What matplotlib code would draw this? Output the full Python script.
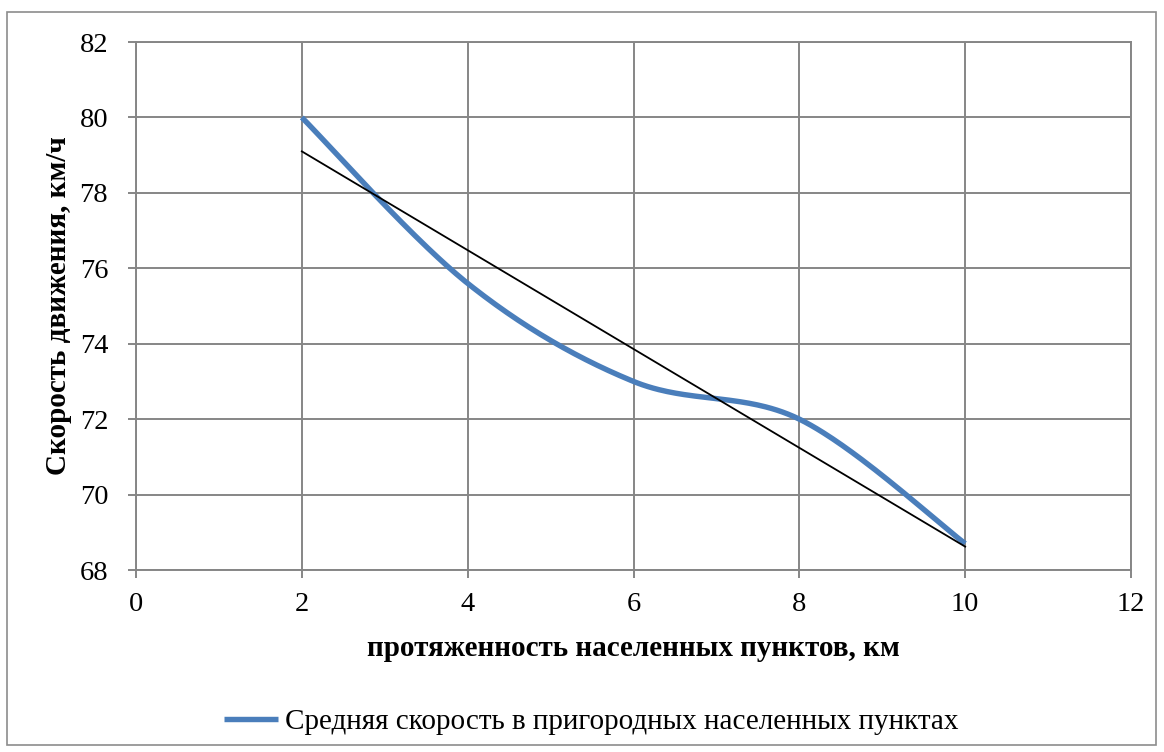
import numpy as np
import matplotlib
matplotlib.use("Agg")
import matplotlib.pyplot as plt
from matplotlib.patches import Rectangle

# Data
x_vals = [2, 4, 6, 8, 10]
y_vals = [80.0, 75.6, 73.0, 72.0, 68.7]
x_ticks = [0, 2, 4, 6, 8, 10, 12]
y_ticks = [68, 70, 72, 74, 76, 78, 80, 82]
series_label = "Средняя скорость в пригородных населенных пунктах"
x_label = "протяженность населенных пунктов, км"
y_label = "Скорость движения, км/ч"

plt.rcParams['font.family'] = ['Liberation Serif', 'DejaVu Serif']

def excel_smooth(xs, ys, n=60):
    P = np.column_stack([xs, ys]).astype(float)
    out = []
    for i in range(len(P) - 1):
        p0 = P[i - 1] if i > 0 else P[i]
        p1 = P[i]
        p2 = P[i + 1]
        p3 = P[i + 2] if i + 2 < len(P) else P[i + 1]
        c1 = p1 + (p2 - p0) / 6.0
        c2 = p2 - (p3 - p1) / 6.0
        t = np.linspace(0, 1, n)[:, None]
        seg = ((1 - t) ** 3) * p1 + 3 * ((1 - t) ** 2) * t * c1 + 3 * (1 - t) * t ** 2 * c2 + t ** 3 * p2
        out.append(seg if i == 0 else seg[1:])
    s = np.vstack(out)
    return s[:, 0], s[:, 1]

fig = plt.figure(figsize=(11.64, 7.52), dpi=100)
fig.patches.append(Rectangle((7 / 1164, 7 / 752), 1149 / 1164, 733 / 752,
                             transform=fig.transFigure, fill=False,
                             edgecolor='#8c8c8c', linewidth=1.2))
ax = fig.add_axes([136 / 1164, 1 - 570 / 752, (1131 - 136) / 1164, (570 - 42) / 752])

grid_c = '#868686'
ax.set_xlim(0, 12)
ax.set_ylim(68, 82)
ax.set_xticks(x_ticks)
ax.set_yticks(y_ticks)
ax.grid(True, color=grid_c, linewidth=1.4)
ax.set_axisbelow(True)
for side in ['top', 'right', 'left', 'bottom']:
    ax.spines[side].set_color(grid_c)
    ax.spines[side].set_linewidth(1.4)
ax.tick_params(axis='both', colors=grid_c, length=6, width=1.4, labelsize=20.5,
               labelcolor='black')
ax.tick_params(axis='x', pad=10)
ax.tick_params(axis='y', pad=14)

sx, sy = excel_smooth(x_vals, y_vals)
ax.plot(sx, sy, color='#4A7EBB', linewidth=3.9, solid_capstyle='butt',
        label=series_label, zorder=3)

coef = np.polyfit(x_vals, y_vals, 1)
tx = np.array([x_vals[0], x_vals[-1]])
ax.plot(tx, np.polyval(coef, tx), color='black', linewidth=1.3, zorder=4)

ax.set_xlabel(x_label, fontsize=21, fontweight='bold', va='center')
ax.xaxis.set_label_coords(0.5, (570 - 648) / 528)
ax.set_ylabel(y_label, fontsize=21, fontweight='bold', va='center')
ax.yaxis.set_label_coords((59 - 136) / 995, 0.5)

leg = fig.legend(handles=[ax.lines[0]], loc='center', bbox_to_anchor=(591 / 1164, 1 - 722 / 752),
                 frameon=False, fontsize=21, handlelength=1.85, handletextpad=0.24)

fig.savefig('out.png', dpi=100)
